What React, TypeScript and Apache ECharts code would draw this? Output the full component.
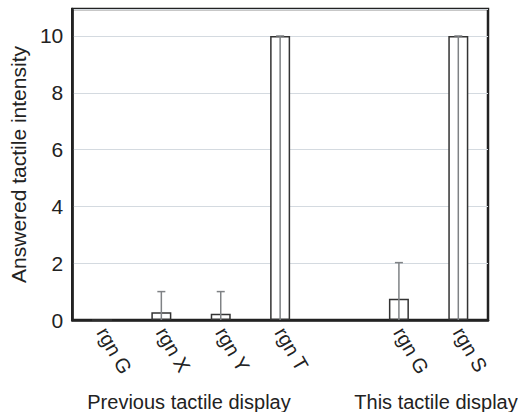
import React, { useEffect, useRef } from "react";
import * as echarts from "echarts";

const categories = ["rgn G", "rgn X", "rgn Y", "rgn T", "", "rgn G", "rgn S"];
const meanValues: (number | null)[] = [0, 0.27, 0.22, 10, null, 0.75, 10];
const upperValues: (number | null)[] = [null, 1.0, 1.0, 10, null, 2.02, 10];
const yTicks = [0, 2, 4, 6, 8, 10];
const groupLabels = ["Previous tactile display", "This tactile display"];

export default function App() {
  const ref = useRef<HTMLDivElement>(null);
  useEffect(() => {
    if (!ref.current) return;
    const chart = echarts.init(ref.current, null, { renderer: "svg" });
    const font = "Liberation Sans, Arial, Helvetica, sans-serif";
    const errData = upperValues
      .map((u, i) => (u === null ? null : [i, 0, u]))
      .filter((d) => d !== null);
    chart.setOption({
      animation: false,
      backgroundColor: "#ffffff",
      textStyle: { fontFamily: font },
      grid: {
        left: 64,
        right: 30,
        top: 9,
        bottom: 92,
        show: true,
        borderColor: "#222222",
        borderWidth: 2.5,
        backgroundColor: "transparent",
      },
      xAxis: {
        type: "category",
        data: categories,
        boundaryGap: true,
        axisLine: { show: true, lineStyle: { color: "#222222", width: 2.5 } },
        axisTick: { show: false },
        splitLine: { show: false },
        axisLabel: {
          rotate: -60,
          interval: 0,
          margin: 9,
          fontSize: 20,
          color: "#222222",
          fontFamily: font,
        },
      },
      yAxis: {
        type: "value",
        min: 0,
        max: 10.95,
        interval: 2,
        name: "Answered tactile intensity",
        nameLocation: "middle",
        nameGap: 34,
        nameTextStyle: { fontSize: 21, color: "#222222", fontFamily: font },
        axisLine: { show: true, lineStyle: { color: "#222222", width: 2.5 } },
        axisTick: { show: false },
        splitLine: { show: true, lineStyle: { color: "#d4dae0", width: 1 } },
        axisLabel: {
          fontSize: 21,
          color: "#222222",
          margin: 9,
          fontFamily: font,
          formatter: (v: number) => (yTicks.includes(v) ? String(v) : ""),
        },
      },
      series: [
        {
          type: "bar",
          data: meanValues,
          barWidth: 20,
          itemStyle: { color: "#ffffff", borderColor: "#333333", borderWidth: 1.5 },
          z: 2,
        },
        {
          type: "custom",
          data: errData,
          z: 3,
          renderItem: (params: any, api: any) => {
            const x = api.value(0);
            const lo = api.coord([x, api.value(1)]);
            const hi = api.coord([x, api.value(2)]);
            const half = 4;
            const style = { stroke: "#7f8285", lineWidth: 1.5 };
            return {
              type: "group",
              children: [
                { type: "line", shape: { x1: lo[0], y1: lo[1], x2: hi[0], y2: hi[1] }, style },
                { type: "line", shape: { x1: hi[0] - half, y1: hi[1], x2: hi[0] + half, y2: hi[1] }, style },
              ],
            };
          },
        },
      ],
      graphic: [
        {
          type: "text",
          x: 189,
          y: 402,
          style: {
            text: groupLabels[0],
            fontSize: 20,
            fill: "#222222",
            fontFamily: font,
            align: "center",
            verticalAlign: "middle",
          },
        },
        {
          type: "text",
          x: 436,
          y: 402,
          style: {
            text: groupLabels[1],
            fontSize: 20,
            fill: "#222222",
            fontFamily: font,
            align: "center",
            verticalAlign: "middle",
          },
        },
      ],
    });
    return () => chart.dispose();
  }, []);
  return (
    <div
      ref={ref}
      style={{ position: "fixed", left: 0, top: 0, width: 518, height: 412 }}
    />
  );
}
